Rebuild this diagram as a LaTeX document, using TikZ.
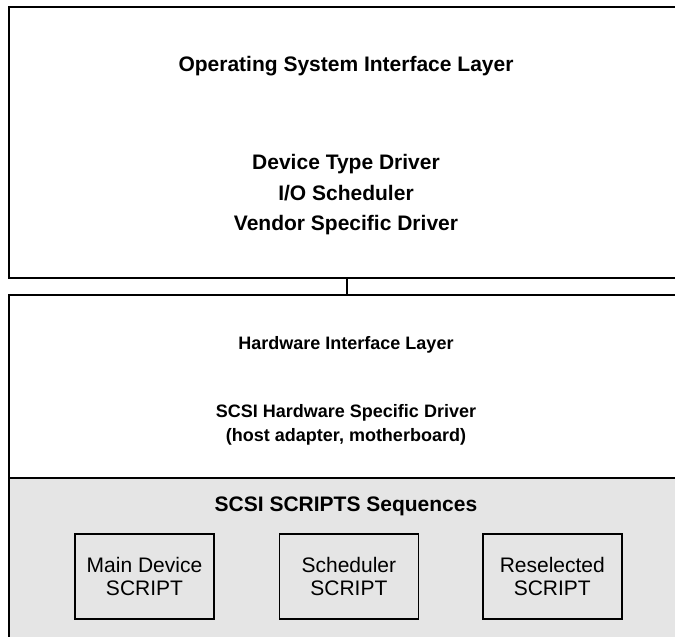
\documentclass[tikz,border=0pt]{standalone}
\usepackage{fontspec}
\setmainfont{Liberation Sans}
\usepackage{tikz}
\usetikzlibrary{positioning}
\definecolor{scriptgray}{RGB}{229, 229, 229}

\begin{document}
\begin{tikzpicture}[
    x=1pt, y=-1pt,
    layerbox/.style={
        rectangle,
        draw=black,
        line width=1.8pt,
        fill=white,
        anchor=north west,
        minimum width=676,
        inner sep=0pt
    },
    scriptarea/.style={
        layerbox,
        fill=scriptgray
    },
    layertitle/.style={
        font=\fontsize{21}{30.5}\selectfont\bfseries,
        align=center,
        inner sep=0pt
    },
    hwtitle/.style={
        font=\fontsize{18}{24}\selectfont\bfseries,
        align=center,
        inner sep=0pt
    },
    scriptbox/.style={
        rectangle,
        draw=black,
        line width=1.4pt,
        fill=scriptgray,
        minimum width=139,
        minimum height=85,
        align=center,
        inner sep=0pt,
        font=\fontsize{21}{23.5}\selectfont
    },
    link/.style={
        line width=1.8pt,
        draw=black
    }
]
\useasboundingbox (0,0) rectangle (675,637);
\clip (0,0) rectangle (675,637);

% ==================== OPERATING SYSTEM LAYER (TOP) ====================

\node (oslayer) [layerbox, minimum height=271] at (8,6) {};
\node (ostitle) [layertitle] at (346,66) {Operating System Interface Layer};
\node (osdrivers) [layertitle] at (346,195) {Device Type Driver\\I/O Scheduler\\Vendor Specific Driver};

% ==================== HARDWARE LAYER (BOTTOM) ====================

\node (hwlayer) [layerbox, minimum height=370] at (8,294) {};
\node (hwname) [hwtitle] at (346,345) {Hardware Interface Layer};
\node (hwdriver) [hwtitle] at (346,425) {SCSI Hardware Specific Driver\\(host adapter, motherboard)};

% Layer Connection
\draw [link] (oslayer.south) -- (hwlayer.north);

% ==================== SCRIPTS SEQUENCES ====================

\node (scripts) [scriptarea, minimum height=190] at (8,477) {};
\node (scriptstitle) [layertitle] at (346,506) {SCSI SCRIPTS Sequences};

\node (maindev) [scriptbox] at (144.5,576.5) {Main Device\\SCRIPT};
\node (sched) [scriptbox, right=64pt of maindev] {Scheduler\\SCRIPT};
\node (resel) [scriptbox, right=63pt of sched] {Reselected\\SCRIPT};

\end{tikzpicture}
\end{document}
